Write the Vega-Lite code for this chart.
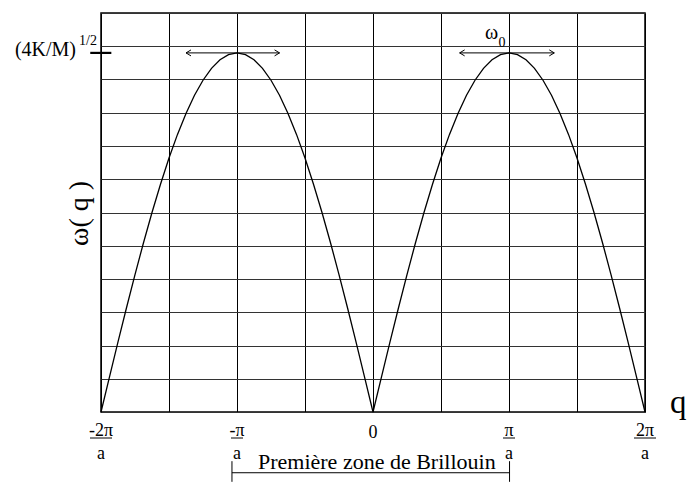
{
  "$schema": "https://vega.github.io/schema/vega-lite/v6.json",
  "width": 544,
  "height": 399,
  "autosize": {"type": "none"},
  "padding": {"left": 101, "top": 13, "right": 45, "bottom": 70},
  "background": "white",
  "config": {
    "view": {"stroke": "black", "strokeWidth": 1.5},
    "font": "Liberation Serif",
    "text": {"font": "Liberation Serif", "color": "black"}
  },
  "layer": [
    {
      "data": {"values": [
        {"q": -2, "w": 0}, {"q": -1.9375, "w": 1.059}, {"q": -1.875, "w": 2.107}, {"q": -1.8125, "w": 3.135},
        {"q": -1.75, "w": 4.133}, {"q": -1.6875, "w": 5.091}, {"q": -1.625, "w": 6.0}, {"q": -1.5625, "w": 6.851},
        {"q": -1.5, "w": 7.637}, {"q": -1.4375, "w": 8.349}, {"q": -1.375, "w": 8.98}, {"q": -1.3125, "w": 9.525},
        {"q": -1.25, "w": 9.978}, {"q": -1.1875, "w": 10.335}, {"q": -1.125, "w": 10.593}, {"q": -1.0625, "w": 10.748},
        {"q": -1, "w": 10.8}, {"q": -0.9375, "w": 10.748}, {"q": -0.875, "w": 10.593}, {"q": -0.8125, "w": 10.335},
        {"q": -0.75, "w": 9.978}, {"q": -0.6875, "w": 9.525}, {"q": -0.625, "w": 8.98}, {"q": -0.5625, "w": 8.349},
        {"q": -0.5, "w": 7.637}, {"q": -0.4375, "w": 6.851}, {"q": -0.375, "w": 6.0}, {"q": -0.3125, "w": 5.091},
        {"q": -0.25, "w": 4.133}, {"q": -0.1875, "w": 3.135}, {"q": -0.125, "w": 2.107}, {"q": -0.0625, "w": 1.059},
        {"q": 0, "w": 0},
        {"q": 0.0625, "w": 1.059}, {"q": 0.125, "w": 2.107}, {"q": 0.1875, "w": 3.135}, {"q": 0.25, "w": 4.133},
        {"q": 0.3125, "w": 5.091}, {"q": 0.375, "w": 6.0}, {"q": 0.4375, "w": 6.851}, {"q": 0.5, "w": 7.637},
        {"q": 0.5625, "w": 8.349}, {"q": 0.625, "w": 8.98}, {"q": 0.6875, "w": 9.525}, {"q": 0.75, "w": 9.978},
        {"q": 0.8125, "w": 10.335}, {"q": 0.875, "w": 10.593}, {"q": 0.9375, "w": 10.748}, {"q": 1, "w": 10.8},
        {"q": 1.0625, "w": 10.748}, {"q": 1.125, "w": 10.593}, {"q": 1.1875, "w": 10.335}, {"q": 1.25, "w": 9.978},
        {"q": 1.3125, "w": 9.525}, {"q": 1.375, "w": 8.98}, {"q": 1.4375, "w": 8.349}, {"q": 1.5, "w": 7.637},
        {"q": 1.5625, "w": 6.851}, {"q": 1.625, "w": 6.0}, {"q": 1.6875, "w": 5.091}, {"q": 1.75, "w": 4.133},
        {"q": 1.8125, "w": 3.135}, {"q": 1.875, "w": 2.107}, {"q": 1.9375, "w": 1.059}, {"q": 2, "w": 0}
      ]},
      "mark": {"type": "line", "color": "black", "strokeWidth": 1.3, "interpolate": "linear"},
      "encoding": {
        "x": {
          "field": "q", "type": "quantitative",
          "scale": {"domain": [-2, 2], "nice": false, "zero": false},
          "axis": {
            "values": [-2, -1.5, -1, -0.5, 0, 0.5, 1, 1.5, 2], "tickCount": 20,
            "grid": true, "gridColor": "black", "gridOpacity": 1, "gridWidth": 1,
            "labels": false, "ticks": false, "domain": false, "title": null
          }
        },
        "y": {
          "field": "w", "type": "quantitative",
          "scale": {"domain": [0, 12], "nice": false, "zero": false},
          "axis": {
            "values": [0, 1, 2, 3, 4, 5, 6, 7, 8, 9, 10, 11, 12], "tickCount": 20,
            "grid": true, "gridColor": "#333333", "gridOpacity": 1, "gridWidth": 1,
            "labels": false, "ticks": false, "domain": false,
            "title": "ω( q )", "titleFont": "Liberation Serif", "titleFontSize": 28,
            "titleFontWeight": "normal", "titleColor": "black", "titleAngle": -90,
            "titleX": -14, "titleY": 200, "titleAlign": "center", "titleBaseline": "alphabetic"
          }
        }
      }
    },
    {
      "data": {"values": [
        {"q": -1.375, "q2": -0.687, "w": 10.8},
        {"q": 0.637, "q2": 1.333, "w": 10.8}
      ]},
      "layer": [
        {
          "mark": {"type": "rule", "color": "black", "strokeWidth": 1},
          "encoding": {
            "x": {"field": "q", "type": "quantitative", "title": null},
            "x2": {"field": "q2"},
            "y": {"field": "w", "type": "quantitative"}
          }
        },
        {
          "mark": {"type": "point", "shape": "M2,-1.2L0,0L2,1.2", "filled": false, "color": "black", "size": 25, "strokeWidth": 1, "opacity": 1},
          "encoding": {
            "x": {"field": "q", "type": "quantitative", "title": null},
            "y": {"field": "w", "type": "quantitative"}
          }
        },
        {
          "mark": {"type": "point", "shape": "M-2,-1.2L0,0L-2,1.2", "filled": false, "color": "black", "size": 25, "strokeWidth": 1, "opacity": 1},
          "encoding": {
            "x": {"field": "q2", "type": "quantitative", "title": null},
            "y": {"field": "w", "type": "quantitative"}
          }
        }
      ]
    },
    {
      "data": {"values": [{"q": -2.079, "q2": -1.924, "w": 10.8}]},
      "mark": {"type": "rule", "color": "black", "strokeWidth": 2.2},
      "encoding": {
        "x": {"field": "q", "type": "quantitative", "title": null},
        "x2": {"field": "q2"},
        "y": {"field": "w", "type": "quantitative"}
      }
    },
    {
      "data": {"values": [{"q": -2, "w": 10.8, "label": "(4K/M)"}]},
      "mark": {"type": "text", "align": "right", "baseline": "alphabetic", "dx": -25, "dy": 3.5, "fontSize": 20, "color": "black"},
      "encoding": {
        "x": {"field": "q", "type": "quantitative", "title": null},
        "y": {"field": "w", "type": "quantitative"},
        "text": {"field": "label"}
      }
    },
    {
      "data": {"values": [{"q": -2, "w": 10.8, "label": "1/2"}]},
      "mark": {"type": "text", "align": "left", "baseline": "alphabetic", "dx": -22, "dy": -7.7, "fontSize": 14, "color": "black"},
      "encoding": {
        "x": {"field": "q", "type": "quantitative", "title": null},
        "y": {"field": "w", "type": "quantitative"},
        "text": {"field": "label"}
      }
    },
    {
      "data": {"values": [{"q": 1, "w": 10.8, "label": "ω"}]},
      "mark": {"type": "text", "align": "left", "baseline": "alphabetic", "dx": -24, "dy": -14.4, "fontSize": 20, "color": "black"},
      "encoding": {
        "x": {"field": "q", "type": "quantitative", "title": null},
        "y": {"field": "w", "type": "quantitative"},
        "text": {"field": "label"}
      }
    },
    {
      "data": {"values": [{"q": 1, "w": 10.8, "label": "0"}]},
      "mark": {"type": "text", "align": "left", "baseline": "alphabetic", "dx": -10.5, "dy": -6, "fontSize": 14, "color": "black"},
      "encoding": {
        "x": {"field": "q", "type": "quantitative", "title": null},
        "y": {"field": "w", "type": "quantitative"},
        "text": {"field": "label"}
      }
    },
    {
      "data": {"values": [
        {"q": -2, "w": 0, "num": "-2π", "den": "a"},
        {"q": -1, "w": 0, "num": "-π", "den": "a"},
        {"q": 1, "w": 0, "num": "π", "den": "a"},
        {"q": 2, "w": 0, "num": "2π", "den": "a"}
      ]},
      "layer": [
        {
          "mark": {"type": "text", "align": "center", "baseline": "alphabetic", "dy": 23.5, "fontSize": 18, "color": "black"},
          "encoding": {
            "x": {"field": "q", "type": "quantitative", "title": null},
            "y": {"field": "w", "type": "quantitative"},
            "text": {"field": "num"}
          }
        },
        {
          "mark": {"type": "text", "align": "center", "baseline": "alphabetic", "dy": 46.5, "fontSize": 18, "color": "black"},
          "encoding": {
            "x": {"field": "q", "type": "quantitative", "title": null},
            "y": {"field": "w", "type": "quantitative"},
            "text": {"field": "den"}
          }
        },
        {
          "transform": [{"filter": "abs(datum.q) == 2"}],
          "mark": {"type": "tick", "orient": "horizontal", "size": 22, "thickness": 1, "color": "black", "opacity": 1, "yOffset": 26},
          "encoding": {
            "x": {"field": "q", "type": "quantitative", "title": null},
            "y": {"field": "w", "type": "quantitative"}
          }
        },
        {
          "transform": [{"filter": "abs(datum.q) == 1"}],
          "mark": {"type": "tick", "orient": "horizontal", "size": 12, "thickness": 1, "color": "black", "opacity": 1, "yOffset": 26},
          "encoding": {
            "x": {"field": "q", "type": "quantitative", "title": null},
            "y": {"field": "w", "type": "quantitative"}
          }
        }
      ]
    },
    {
      "data": {"values": [{"q": 0, "w": 0, "label": "0"}]},
      "mark": {"type": "text", "align": "center", "baseline": "alphabetic", "dy": 26, "fontSize": 18, "color": "black"},
      "encoding": {
        "x": {"field": "q", "type": "quantitative", "title": null},
        "y": {"field": "w", "type": "quantitative"},
        "text": {"field": "label"}
      }
    },
    {
      "data": {"values": [{"q": 2, "w": 0, "label": "q"}]},
      "mark": {"type": "text", "align": "left", "baseline": "alphabetic", "dx": 25, "dy": 1, "fontSize": 33, "color": "black"},
      "encoding": {
        "x": {"field": "q", "type": "quantitative", "title": null},
        "y": {"field": "w", "type": "quantitative"},
        "text": {"field": "label"}
      }
    },
    {
      "data": {"values": [{"q": -1.037, "q2": 1.004, "w": -1.827}]},
      "mark": {"type": "rule", "color": "black", "strokeWidth": 1},
      "encoding": {
        "x": {"field": "q", "type": "quantitative", "title": null},
        "x2": {"field": "q2"},
        "y": {"field": "w", "type": "quantitative"}
      }
    },
    {
      "data": {"values": [{"q": -1.037, "w": -1.479, "w2": -2.1}, {"q": 1.004, "w": -1.479, "w2": -2.1}]},
      "mark": {"type": "rule", "color": "black", "strokeWidth": 1},
      "encoding": {
        "x": {"field": "q", "type": "quantitative", "title": null},
        "y": {"field": "w", "type": "quantitative"},
        "y2": {"field": "w2"}
      }
    },
    {
      "data": {"values": [{"q": 0.028, "w": -1.707, "label": "Première zone de Brillouin"}]},
      "mark": {"type": "text", "align": "center", "baseline": "alphabetic", "fontSize": 22, "color": "black"},
      "encoding": {
        "x": {"field": "q", "type": "quantitative", "title": null},
        "y": {"field": "w", "type": "quantitative"},
        "text": {"field": "label"}
      }
    }
  ]
}
